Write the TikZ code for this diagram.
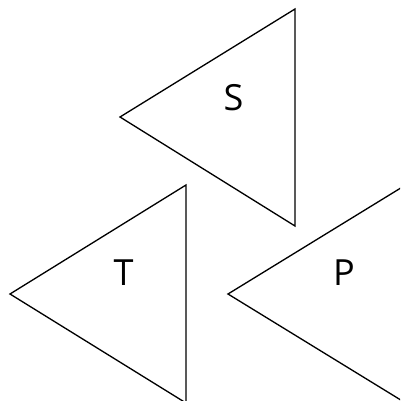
\documentclass[tikz,border=0pt]{standalone}
\usepackage{fontspec}
\setmainfont{Open Sans}
\usetikzlibrary{positioning}

\begin{document}
\begin{tikzpicture}[
    x=0.02cm, y=-0.02cm,
    tri/.style={draw, line width=0.75pt, line join=miter},
    lbl/.style={inner sep=0pt, font=\fontsize{20.5}{24}\selectfont},
]
    % Frame
    \useasboundingbox (0, 0) rectangle (400, 401);
    \clip (0, 0) rectangle (400, 401);

    % Triangles
    \draw[tri] (120, 117) -- (295, 9) -- (295, 226) -- cycle;
    \draw[tri] (10, 294) -- (186, 185) -- (186, 403) -- cycle;
    \draw[tri] (228, 294) -- (404, 186) -- (404, 402) -- cycle;

    % Labels
    \node[lbl] (s) at (233.5, 98) {S};
    \node[lbl] (t) at (123.5, 273) {T};
    \node[lbl] (p) at (344, 273) {P};
\end{tikzpicture}
\end{document}
